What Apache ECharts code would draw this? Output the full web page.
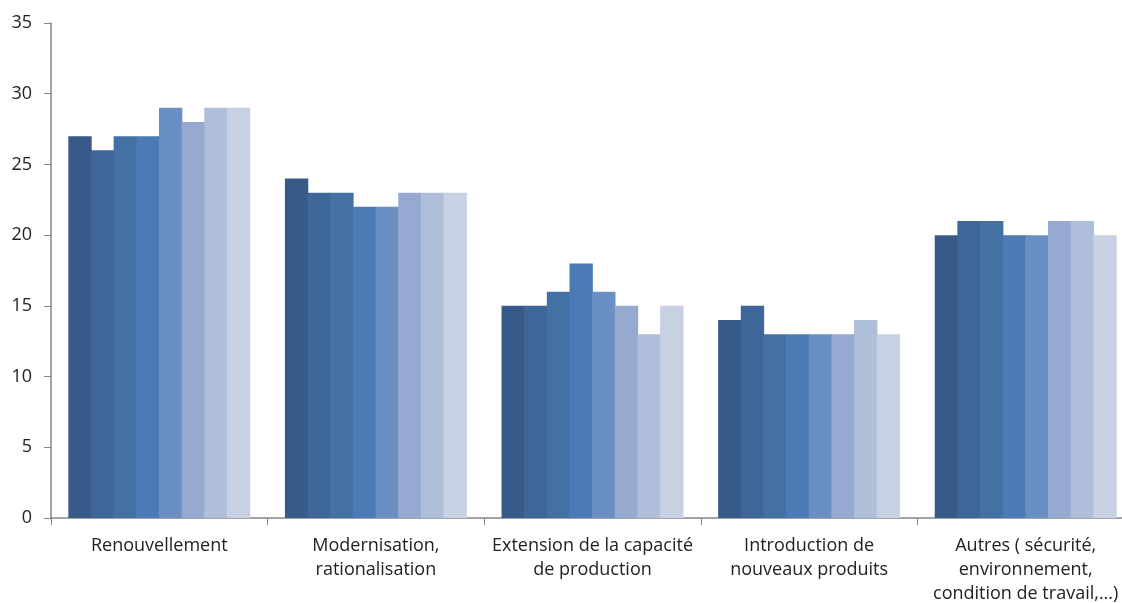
<!DOCTYPE html>
<html><head><meta charset="utf-8">
<script src="https://cdn.jsdelivr.net/npm/echarts@6/dist/echarts.min.js"></script>
<style>html,body{margin:0;padding:0;background:#fff;overflow:hidden;width:1122px;height:603px}#c{width:1134px;height:603px}</style>
</head><body><div id="c"></div>
<script>
var categories = ["Renouvellement", "Modernisation,\nrationalisation", "Extension de la capacité\nde production", "Introduction de\nnouveaux produits", "Autres ( sécurité,\nenvironnement,\ncondition de travail,...)"];
var s1 = [27, 24, 15, 14, 20];
var s2 = [26, 23, 15, 15, 21];
var s3 = [27, 23, 16, 13, 21];
var s4 = [27, 22, 18, 13, 20];
var s5 = [29, 22, 16, 13, 20];
var s6 = [28, 23, 15, 13, 21];
var s7 = [29, 23, 13, 14, 21];
var s8 = [29, 23, 15, 13, 20];
var colors = ["#375A88", "#3E6698", "#4471A4", "#4A7BB5", "#6A8FC3", "#96AAD1", "#B0BFD9", "#C8D0E3"];
var allSeries = [s1, s2, s3, s4, s5, s6, s7, s8];
var chart = echarts.init(document.getElementById('c'));
var font = "'Open Sans', 'Noto Sans', sans-serif";
chart.setOption({
  animation: false,
  grid: {left: 51, right: 0, top: 23, bottom: 85, containLabel: false, outerBoundsMode: 'none'},
  xAxis: {
    type: 'category', data: categories,
    axisLine: {lineStyle: {color: '#868686', width: 1.5}},
    axisTick: {show: true, length: 7, alignWithLabel: false, lineStyle: {color: '#868686'}},
    axisLabel: {color: '#222', fontSize: 18, fontFamily: font, margin: 16, lineHeight: 24, interval: 0}
  },
  yAxis: {
    type: 'value', min: 0, max: 35, interval: 5,
    axisLine: {show: true, lineStyle: {color: '#868686', width: 1.5}},
    axisTick: {show: true, length: 7, lineStyle: {color: '#868686'}},
    splitLine: {show: false},
    axisLabel: {color: '#222', fontSize: 18, fontFamily: font, margin: 19}
  },
  series: allSeries.map(function (d, i) {
    return {type: 'bar', data: d, barGap: '-3%', barCategoryGap: '16%',
      itemStyle: {color: colors[i], borderWidth: 0}};
  })
});
</script></body></html>
